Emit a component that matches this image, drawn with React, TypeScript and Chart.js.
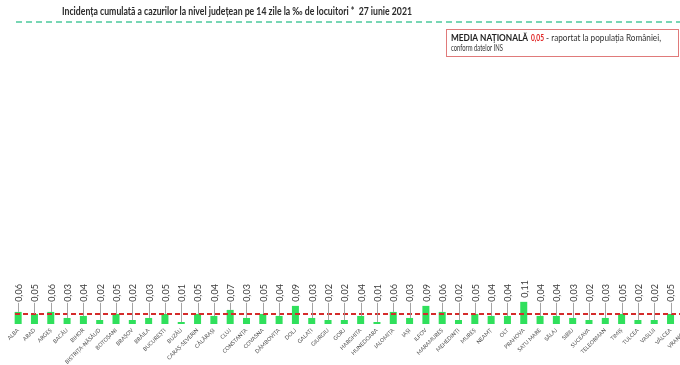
import React, { useEffect, useRef } from 'react';
import { Chart, registerables } from 'chart.js';

Chart.register(...registerables);

const categories = [
  'ALBA', 'ARAD', 'ARGEȘ', 'BACĂU', 'BIHOR', 'BISTRIȚA-NĂSĂUD', 'BOTOȘANI', 'BRAȘOV', 'BRĂILA', 'BUCUREȘTI',
  'BUZĂU', 'CARAȘ-SEVERIN', 'CĂLĂRAȘI', 'CLUJ', 'CONSTANȚA', 'COVASNA', 'DÂMBOVIȚA', 'DOLJ', 'GALAȚI', 'GIURGIU',
  'GORJ', 'HARGHITA', 'HUNEDOARA', 'IALOMIȚA', 'IAȘI', 'ILFOV', 'MARAMUREȘ', 'MEHEDINȚI', 'MUREȘ', 'NEAMȚ',
  'OLT', 'PRAHOVA', 'SATU MARE', 'SĂLAJ', 'SIBIU', 'SUCEAVA', 'TELEORMAN', 'TIMIȘ', 'TULCEA', 'VASLUI',
  'VÂLCEA', 'VRANCEA',
];

const values = [
  0.06, 0.05, 0.06, 0.03, 0.04, 0.02, 0.05, 0.02, 0.03, 0.05,
  0.01, 0.05, 0.04, 0.07, 0.03, 0.05, 0.04, 0.09, 0.03, 0.02,
  0.02, 0.04, 0.01, 0.06, 0.03, 0.09, 0.06, 0.02, 0.05, 0.04,
  0.04, 0.11, 0.04, 0.04, 0.03, 0.02, 0.03, 0.05, 0.02, 0.02,
  0.05, 0.03,
];

const yMin = 0;
const yMax = 1.5;
const yStep = 0.25;
const nationalAverage = 0.05;
const threshold = 1.5;

const titleText = 'Incidența cumulată a cazurilor la nivel județean pe 14 zile la ‰ de locuitori *  27 iunie 2021';
const legendBold = 'MEDIA NAȚIONALĂ';
const legendValue = '0,05';
const legendRest = ' - raportat la populația României,';
const legendLine2 = 'conform datelor INS';

const FONT = 'Lato, "Open Sans", "Liberation Sans", sans-serif';
const SHIFT = 30; // canvas is shifted left so the y-axis labels are cut off, as in the reference
const LABEL_LEVEL = 0.11;

const fmt = (v: number) => v.toFixed(2).replace('.', ',');

const overlayPlugin = {
  id: 'overlay',
  afterDatasetsDraw(chart: any) {
    const { ctx, chartArea, scales } = chart;
    const y = scales.y;

    // threshold line (green dashed)
    ctx.save();
    ctx.strokeStyle = '#4cc99c';
    ctx.lineWidth = 1.5;
    ctx.setLineDash([6, 4]);
    const gy = y.getPixelForValue(threshold);
    ctx.beginPath();
    ctx.moveTo(chartArea.left + 6, gy);
    ctx.lineTo(chartArea.right, gy);
    ctx.stroke();

    // national average (red dashed)
    ctx.strokeStyle = '#d52b2b';
    ctx.lineWidth = 2;
    ctx.setLineDash([5, 3]);
    const ry = y.getPixelForValue(nationalAverage);
    ctx.beginPath();
    ctx.moveTo(chartArea.left + 5, ry);
    ctx.lineTo(chartArea.right, ry);
    ctx.stroke();
    ctx.restore();

    // value labels with leader lines
    const meta = chart.getDatasetMeta(0);
    const level = y.getPixelForValue(LABEL_LEVEL);
    meta.data.forEach((bar: any, i: number) => {
      const bx = bar.x;
      const top = bar.y;
      const bottom = Math.min(level, top - 4);
      if (top - bottom > 6) {
        ctx.save();
        ctx.strokeStyle = '#9a9a9a';
        ctx.lineWidth = 0.9;
        ctx.beginPath();
        ctx.moveTo(Math.round(bx) + 0.5, bottom + 1);
        ctx.lineTo(Math.round(bx) + 0.5, top);
        ctx.stroke();
        ctx.restore();
      }
      ctx.save();
      ctx.translate(bx + 1, bottom);
      ctx.rotate(-Math.PI / 2);
      ctx.font = `9px ${FONT}`;
      ctx.fillStyle = '#3a3a3a';
      ctx.textAlign = 'left';
      ctx.textBaseline = 'middle';
      ctx.fillText(fmt(values[i]), 0, 0);
      ctx.restore();
    });

    // title
    ctx.save();
    ctx.font = `bold 11.5px ${FONT}`;
    ctx.fillStyle = '#2a2a2a';
    ctx.textAlign = 'left';
    ctx.textBaseline = 'alphabetic';
    ctx.fillText(titleText, 62 + SHIFT, 15, 350);
    ctx.restore();

    // national average box
    ctx.save();
    ctx.fillStyle = '#ffffff';
    ctx.fillRect(446 + SHIFT, 29, 232, 27);
    ctx.strokeStyle = '#e07a7a';
    ctx.lineWidth = 1;
    ctx.strokeRect(446.5 + SHIFT, 29.5, 232, 27);
    ctx.textAlign = 'left';
    ctx.textBaseline = 'alphabetic';
    ctx.font = `bold 9px ${FONT}`;
    ctx.fillStyle = '#222';
    ctx.fillText(legendBold, 451 + SHIFT, 40.5, 77);
    ctx.fillStyle = '#e02020';
    ctx.fillText(legendValue, 531 + SHIFT, 40.5, 13);
    ctx.font = `8.5px ${FONT}`;
    ctx.fillStyle = '#333';
    ctx.fillText(legendRest, 544 + SHIFT, 40.5, 117);
    ctx.fillText(legendLine2, 451 + SHIFT, 51, 52);
    ctx.restore();
  },
};

export default function App() {
  const ref = useRef<HTMLCanvasElement | null>(null);

  useEffect(() => {
    if (!ref.current) return;
    const chart = new Chart(ref.current, {
      type: 'bar',
      data: {
        labels: categories,
        datasets: [
          {
            data: values,
            backgroundColor: '#30e05c',
            borderWidth: 0,
            barPercentage: 0.43,
            categoryPercentage: 1,
          },
        ],
      },
      options: {
        responsive: false,
        animation: false,
        layout: { padding: { top: 22, right: 0, bottom: 0, left: 0 } },
        plugins: {
          legend: { display: false },
          title: { display: false },
          tooltip: { enabled: false },
        },
        scales: {
          x: {
            grid: { display: false, drawTicks: false },
            border: { display: false },
            ticks: {
              autoSkip: false,
              minRotation: 45,
              maxRotation: 45,
              padding: 3,
              color: '#505050',
              font: { family: FONT, size: 5.5 },
            },
            afterFit(scale: any) {
              scale.height = 41;
            },
          },
          y: {
            min: yMin,
            max: yMax,
            grid: { display: false, drawTicks: false },
            border: { display: false },
            ticks: {
              stepSize: yStep,
              padding: 10,
              color: '#555',
              font: { family: FONT, size: 9 },
              callback: (v: any) => fmt(Number(v)),
            },
            afterFit(scale: any) {
              scale.width = 40;
            },
          },
        },
      },
      plugins: [overlayPlugin],
    });
    return () => chart.destroy();
  }, []);

  return (
    <div
      style={{
        position: 'fixed',
        left: 0,
        top: 0,
        width: 680,
        height: 365,
        overflow: 'hidden',
        background: '#ffffff',
      }}
    >
      <canvas
        ref={ref}
        width={725}
        height={365}
        style={{ position: 'absolute', left: -SHIFT, top: 0, width: 725, height: 365 }}
      />
    </div>
  );
}
